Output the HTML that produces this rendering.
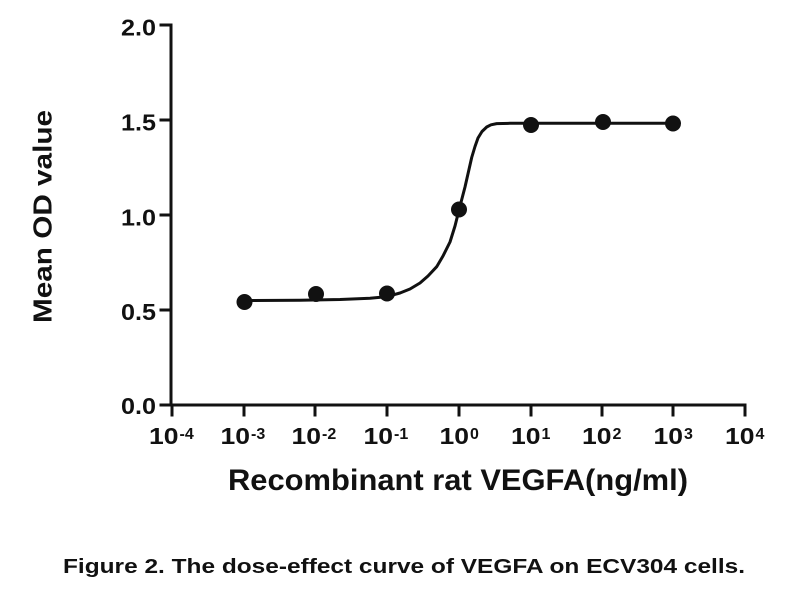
<!DOCTYPE html>
<html>
<head>
<meta charset="utf-8">
<style>
html,body{margin:0;padding:0;background:#fff;}
svg{display:block;}
text{font-family:"Liberation Sans",Arial,sans-serif;font-weight:bold;fill:#111;}
</style>
</head>
<body>
<svg width="800" height="600" viewBox="0 0 800 600" xmlns="http://www.w3.org/2000/svg">
<rect width="800" height="600" fill="#fff"/>
<!-- axes -->
<g stroke="#111" stroke-width="3" fill="none" stroke-linecap="square">
  <line x1="171" y1="25" x2="171" y2="405"/>
  <line x1="171" y1="405" x2="745" y2="405"/>
  <!-- y ticks -->
  <line x1="161" y1="25" x2="171" y2="25"/>
  <line x1="161" y1="120" x2="171" y2="120"/>
  <line x1="161" y1="215" x2="171" y2="215"/>
  <line x1="161" y1="310" x2="171" y2="310"/>
  <line x1="161" y1="405" x2="171" y2="405"/>
  <!-- x ticks -->
  <line x1="172" y1="405" x2="172" y2="415"/>
  <line x1="244" y1="405" x2="244" y2="415"/>
  <line x1="315" y1="405" x2="315" y2="415"/>
  <line x1="387" y1="405" x2="387" y2="415"/>
  <line x1="459" y1="405" x2="459" y2="415"/>
  <line x1="531" y1="405" x2="531" y2="415"/>
  <line x1="602" y1="405" x2="602" y2="415"/>
  <line x1="673" y1="405" x2="673" y2="415"/>
  <line x1="745" y1="405" x2="745" y2="415"/>
</g>
<!-- y tick labels -->
<g font-size="23" text-anchor="end">
  <text x="156" y="35.5" textLength="35" lengthAdjust="spacingAndGlyphs">2.0</text>
  <text x="156" y="130.5" textLength="35" lengthAdjust="spacingAndGlyphs">1.5</text>
  <text x="156" y="225.5" textLength="35" lengthAdjust="spacingAndGlyphs">1.0</text>
  <text x="156" y="320" textLength="35" lengthAdjust="spacingAndGlyphs">0.5</text>
  <text x="156" y="414" textLength="35" lengthAdjust="spacingAndGlyphs">0.0</text>
</g>
<!-- x tick labels -->
<g font-size="23">
  <text x="149" y="444" textLength="29.5" lengthAdjust="spacingAndGlyphs">10</text>
  <text x="220.5" y="444" textLength="29.5" lengthAdjust="spacingAndGlyphs">10</text>
  <text x="291.5" y="444" textLength="29.5" lengthAdjust="spacingAndGlyphs">10</text>
  <text x="363.5" y="444" textLength="29.5" lengthAdjust="spacingAndGlyphs">10</text>
  <text x="439.5" y="444" textLength="29.5" lengthAdjust="spacingAndGlyphs">10</text>
  <text x="511" y="444" textLength="29.5" lengthAdjust="spacingAndGlyphs">10</text>
  <text x="582" y="444" textLength="29.5" lengthAdjust="spacingAndGlyphs">10</text>
  <text x="653.5" y="444" textLength="29.5" lengthAdjust="spacingAndGlyphs">10</text>
  <text x="725" y="444" textLength="29.5" lengthAdjust="spacingAndGlyphs">10</text>
</g>
<g font-size="16">
  <text x="179.5" y="439">-4</text>
  <text x="251" y="439">-3</text>
  <text x="322" y="439">-2</text>
  <text x="394" y="439">-1</text>
  <text x="470" y="439">0</text>
  <text x="541.5" y="439">1</text>
  <text x="612.5" y="439">2</text>
  <text x="684" y="439">3</text>
  <text x="755.5" y="439">4</text>
</g>
<!-- axis titles -->
<text x="228" y="490" font-size="30" textLength="460" lengthAdjust="spacingAndGlyphs">Recombinant rat VEGFA(ng/ml)</text>
<text transform="translate(51.5,216.5) rotate(-90)" x="0" y="0" font-size="26" text-anchor="middle" textLength="213" lengthAdjust="spacingAndGlyphs">Mean OD value</text>
<!-- curve -->
<polyline fill="none" stroke="#111" stroke-width="3" stroke-linejoin="round" stroke-linecap="round"
 points="244,300.5 300,300.2 340,299.5 370,298.3 387,296.6 400,293 410,289 420,283 428,276 436.7,266.7 443,256 450,242 455,226 459,210 465,187 471.7,157.5 475,146.5 478,138 482,131.5 486.7,127 491,124.8 496.7,123.6 510,123.3 673,123.3"/>
<!-- points -->
<g fill="#111">
  <circle cx="244.5" cy="302" r="8"/>
  <circle cx="316" cy="294" r="8"/>
  <circle cx="387" cy="293.5" r="8"/>
  <circle cx="459" cy="209.5" r="8"/>
  <circle cx="531" cy="125" r="8"/>
  <circle cx="603" cy="122" r="8"/>
  <circle cx="673" cy="123.5" r="8"/>
</g>
<!-- caption -->
<text x="63" y="573" font-size="20" textLength="682" lengthAdjust="spacingAndGlyphs">Figure 2. The dose-effect curve of VEGFA on ECV304 cells.</text>
</svg>
</body>
</html>
